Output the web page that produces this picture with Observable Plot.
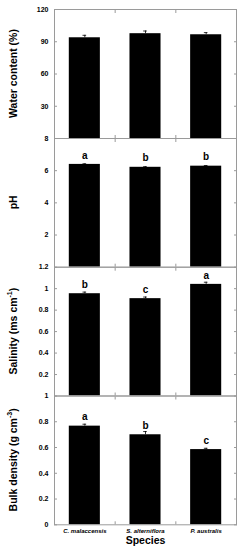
<!DOCTYPE html>
<html>
<head>
<meta charset="utf-8">
<script src="https://cdn.jsdelivr.net/npm/d3@7"></script>
<script src="https://cdn.jsdelivr.net/npm/@observablehq/plot@0.6"></script>
<style>
  html, body { margin: 0; padding: 0; background: #fff; }
  #chart { position: relative; width: 243px; height: 550px; font-family: "Liberation Sans", Arial, sans-serif; }
  #chart svg { position: absolute; left: 0; top: 0; }
</style>
</head>
<body>
<div id="chart"></div>
<script>
const species = ["C. malaccensis", "S. alterniflora", "P. australis"];

const water = [93.7, 97.5, 96.5];
const waterErr = [2.3, 2.5, 2.0];
const waterTicks = [30, 60, 90, 120];

const ph = [6.39, 6.21, 6.28];
const phErr = [0.04, 0.04, 0.04];
const phLetters = ["a", "b", "b"];
const phTicks = [2, 4, 6, 8];

const salinity = [0.953, 0.907, 1.04];
const salinityErr = [0.015, 0.015, 0.02];
const salinityLetters = ["b", "c", "a"];
const salinityTicks = [0.2, 0.4, 0.6, 0.8, 1, 1.2];

const bulk = [0.766, 0.699, 0.584];
const bulkErr = [0.015, 0.025, 0.01];
const bulkLetters = ["a", "b", "c"];
const bulkTicks = [0, 0.2, 0.4, 0.6, 0.8, 1];

const panels = [
  {title: ["Water content (%)"], values: water, errs: waterErr, letters: null, ticks: waterTicks, domain: [0, 120]},
  {title: ["pH"], values: ph, errs: phErr, letters: phLetters, ticks: phTicks, domain: [0, 8]},
  {title: ["Salinity (ms cm", "-1", ")"], values: salinity, errs: salinityErr, letters: salinityLetters, ticks: salinityTicks, domain: [0, 1.2]},
  {title: ["Bulk density (g cm", "-3", ")"], values: bulk, errs: bulkErr, letters: bulkLetters, ticks: bulkTicks, domain: [0, 1]}
];

const W = 243, H = 550;
const tops = [9, 138, 266.7, 395.5];
const bottom = 524.3;
const halfBar = 0.256, halfCap = 0.03;
const frameColor = "#9a9a9a";
const fmt = d3.format("~g");
const chart = document.getElementById("chart");

panels.forEach((p, k) => {
  const top = tops[k];
  const bot = k < 3 ? tops[k + 1] : bottom;
  const data = species.map((s, i) => ({
    x: i + 1, v: p.values[i], e: p.errs[i], letter: p.letters ? p.letters[i] : ""
  }));
  const last = k === 3;
  const marks = [
    Plot.rect(data, {x1: d => d.x - halfBar, x2: d => d.x + halfBar, y1: 0, y2: "v", fill: "black"}),
    Plot.ruleX(data, {x: "x", y1: "v", y2: d => d.v + d.e, stroke: "black", strokeWidth: 0.8}),
    Plot.ruleY(data, {y: d => d.v + d.e, x1: d => d.x - halfCap, x2: d => d.x + halfCap, stroke: "black", strokeWidth: 0.8}),
    Plot.frame({stroke: frameColor, strokeWidth: 1}),
    Plot.axisY({ticks: p.ticks, anchor: "left", tickSize: -3, text: null, label: null, stroke: frameColor}),
    Plot.axisY({ticks: p.ticks, anchor: "right", tickSize: -3, text: null, label: null, stroke: frameColor}),
    Plot.axisY({ticks: p.ticks, anchor: "left", tickSize: 0, tickPadding: 6, label: null, tickFormat: fmt,
      fontSize: 7, fontWeight: "bold", fill: "black"}),
    Plot.axisX({ticks: [1.5, 2.5], anchor: "bottom", tickSize: -3, text: null, label: null, stroke: frameColor}),
    Plot.axisX({ticks: [1.5, 2.5], anchor: "top", tickSize: -3, text: null, label: null, stroke: frameColor})
  ];
  if (p.letters) {
    marks.push(Plot.text(data, {x: "x", y: "v", text: "letter", dy: -9, fontSize: 10, fontWeight: "bold", fill: "black"}));
  }
  if (last) {
    marks.push(Plot.axisX({ticks: [1, 2, 3], anchor: "bottom", tickSize: 0, tickPadding: 4, label: null,
      tickFormat: d => species[d - 1], fontSize: 6, fontStyle: "italic", fontWeight: "bold", fill: "black"}));
    marks.push(Plot.text(["Species"], {frameAnchor: "bottom", dy: 19, fontSize: 10.5, fontWeight: "bold", fill: "black"}));
  }
  const svg = Plot.plot({
    width: W,
    height: H,
    marginLeft: 54,
    marginRight: 7,
    marginTop: top,
    marginBottom: H - bot,
    style: {background: "transparent", overflow: "visible", fontFamily: "Liberation Sans, Arial, sans-serif"},
    x: {type: "linear", domain: [0.5, 3.5], axis: null},
    y: {domain: p.domain, axis: null},
    marks
  });
  // rotated y-axis title
  const cy = (top + bot) / 2;
  const t = d3.select(svg).append("text")
    .attr("transform", `translate(14,${cy}) rotate(-90)`)
    .attr("text-anchor", "middle")
    .attr("dominant-baseline", "middle")
    .attr("font-size", 10.5)
    .attr("font-weight", "bold")
    .attr("fill", "black")
    .attr("font-family", "Liberation Sans, Arial, sans-serif");
  t.append("tspan").text(p.title[0]);
  if (p.title.length > 1) {
    t.append("tspan").attr("font-size", 7).attr("dy", "-4").text(p.title[1]);
    t.append("tspan").attr("dy", "4").text(p.title[2]);
  }
  chart.appendChild(svg);
});
</script>
</body>
</html>
